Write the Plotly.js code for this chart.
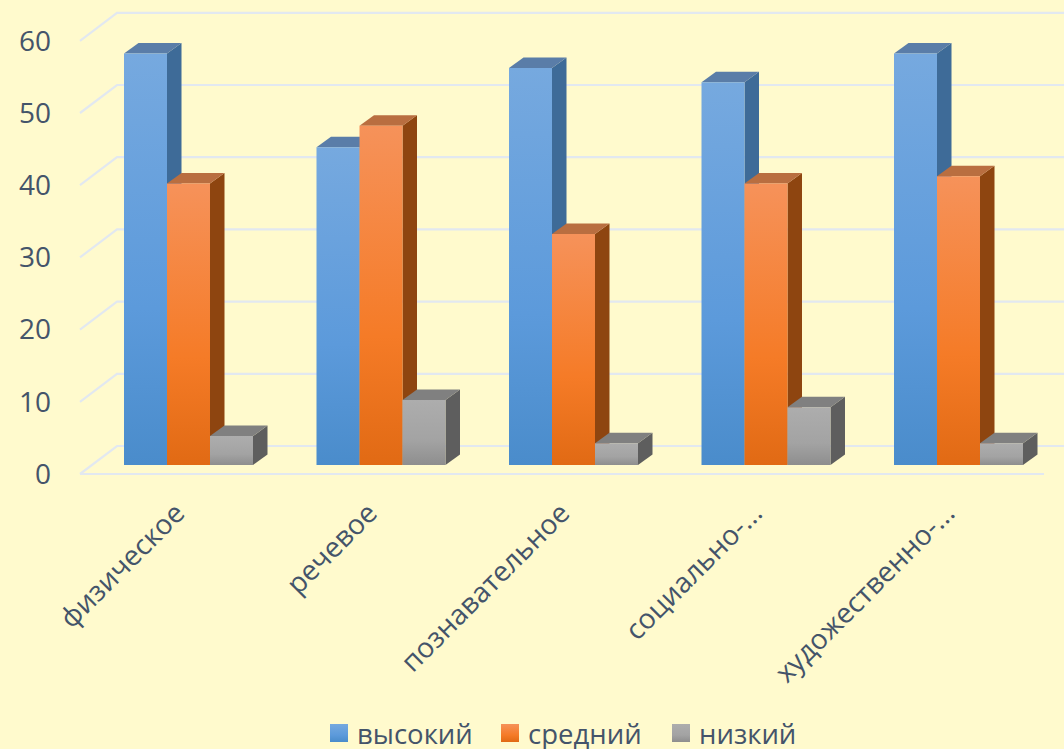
<!DOCTYPE html>
<html><head><meta charset="utf-8">
<script src="https://cdn.plot.ly/plotly-3.0.1.min.js"></script>
<style>html,body{margin:0;padding:0;background:#FFFACD;overflow:hidden}</style>
</head><body><div id="chart" style="width:1064px;height:749px"></div>
<script>
const categories = ["физическое","речевое","познавательное","социально-...","художественно-..."];
const seriesNames = ["высокий","средний","низкий"];
const high = [57,44,55,53,57];
const mid = [39,47,32,39,40];
const low = [4,9,3,8,3];
const yTicks = [0,10,20,30,40,50,60];

const allSeries = [high, mid, low];
const frontTop = ["#76A9DF","#F6925A","#ADADAD"];
const frontMid = ["#5C9ADB","#F57B27","#A3A3A3"];
const frontBot = ["#4A8CCB","#E16A14","#8E8E8E"];
const sideTop = ["#4C7099","#A15C33","#7A7A7A"];
const sideBot = ["#3E6B98","#8E4510","#5E5E5E"];
const topFace = ["#5A7DA8","#B96E40","#808080"];

const PITCH = 192.5, UNIT = 7.22;            // px per category, px per value
const W = 1064, H = 749, L = 60, PB = 482;   // plot box
const BASE = 465, C0 = 188.5;                // px of value 0, px of first category
const xOf = px => (px - C0) / PITCH;
const barW = 43 / PITCH, dX = 14.5 / PITCH, dY = 10.5 / UNIT;

const traces = [];
// walls: gridlines following the floor perspective
const fOff = -9 / UNIT, bOff = 19 / UNIT;
yTicks.forEach(t => {
  traces.push({type:"scatter",mode:"lines",x:[xOf(80),xOf(117),xOf(W)],y:[t+fOff,t+bOff,t+bOff],
    line:{color:"#E2E8F0",width:2.2},hoverinfo:"skip",showlegend:false,zorder:-3});
});
traces.push({type:"scatter",mode:"lines",x:[xOf(80),xOf(1044)],y:[fOff,fOff],
  line:{color:"#E2E8F0",width:2.2},hoverinfo:"skip",showlegend:false,zorder:-3});

// side and top faces of the blocks
allSeries.forEach((vals, s) => {
  vals.forEach((v, i) => {
    const right = i + (s - 1) * barW + barW / 2;
    const left = right - barW;
    traces.push({type:"scatter",mode:"lines",fill:"toself",line:{width:0},
      x:[right,right+dX,right+dX,right,right],y:[0,dY,v+dY,v,0],
      fillcolor:sideBot[s],hoverinfo:"skip",showlegend:false,zorder:-2});
    traces.push({type:"scatter",mode:"lines",fill:"toself",line:{width:0},
      x:[left,left+dX,right+dX,right,left],y:[v,v+dY,v+dY,v,v],
      fillcolor:topFace[s],hoverinfo:"skip",showlegend:false,zorder:-2});
  });
});
// front faces
allSeries.forEach((vals, s) => {
  traces.push({type:"bar",name:seriesNames[s],x:categories.map((c,i)=>i),y:vals,
    marker:{color:frontBot[s],line:{width:0}},zorder:0});
});

const font = {family:'"Open Sans","Noto Sans",sans-serif',size:28,color:"#44546A"};
const layout = {
  width:W,height:H,margin:{l:L,r:0,t:0,b:H-PB,pad:0},
  paper_bgcolor:"#FFFACD",plot_bgcolor:"#FFFACD",font:font,
  barmode:"group",bargap:1-3*barW,bargroupgap:0,
  xaxis:{range:[xOf(L),xOf(W)],tickmode:"array",tickvals:categories.map((c,i)=>i),ticktext:categories,
    tickangle:-45,showgrid:false,zeroline:false,showline:false,ticks:"",ticklen:0,tickfont:font,automargin:false,
    ticklabelstandoff:8,ticklabelshift:-12},
  yaxis:{range:[(BASE-PB)/UNIT,BASE/UNIT],tickmode:"array",tickvals:yTicks,showgrid:false,zeroline:false,
    showline:false,ticks:"",tickfont:font,ticklabelshift:9,ticklabelstandoff:8,automargin:false},
  legend:{orientation:"h",x:(317-L)/(W-L),xanchor:"left",xref:"paper",y:(H-733)/H,yref:"container",yanchor:"middle",
    entrywidth:126,entrywidthmode:"pixels",
    font:{family:font.family,size:27.5,color:"#44546A"},bgcolor:"rgba(0,0,0,0)",traceorder:"normal",itemclick:false}
};

Plotly.newPlot("chart",traces,layout,{displayModeBar:false,staticPlot:true}).then(gd=>{
  const NS="http://www.w3.org/2000/svg";
  const svg=gd.querySelector(".main-svg");
  let defs=svg.querySelector("defs");
  const mk=(id,stops)=>{const g=document.createElementNS(NS,"linearGradient");g.setAttribute("id",id);
    g.setAttribute("x1","0");g.setAttribute("y1","0");g.setAttribute("x2","0");g.setAttribute("y2","1");
    stops.forEach(([o,c])=>{const st=document.createElementNS(NS,"stop");st.setAttribute("offset",o);st.setAttribute("stop-color",c);g.appendChild(st);});
    defs.appendChild(g);};
  for(let s=0;s<3;s++){mk("gf"+s,[[0,frontTop[s]],[0.62,frontMid[s]],[1,frontBot[s]]]);mk("gs"+s,[[0,sideTop[s]],[1,sideBot[s]]]);}
  const norm=h=>{const d=document.createElement("div");d.style.color=h;return d.style.color;};
  const sideNorm=sideBot.map(norm), frontNorm=frontBot.map(norm);
  gd.querySelectorAll(".legend .traces").forEach((t,s)=>{
    t.querySelectorAll(".legendpoints path").forEach(p=>{
      p.setAttribute("transform","translate(22,0) scale(1.5)");
      p.style.setProperty("fill",`url(#gf${s})`,"important");});});
  gd.querySelectorAll(".trace.bars .point path").forEach(p=>{
    const s=frontNorm.indexOf(p.style.fill);
    if(s>=0)p.style.setProperty("fill",`url(#gf${s})`,"important");});
  gd.querySelectorAll(".scatterlayer .trace .js-fill").forEach(p=>{
    const s=sideNorm.indexOf(p.style.fill);
    if(s>=0)p.style.setProperty("fill",`url(#gs${s})`,"important");});
});
</script></body></html>
